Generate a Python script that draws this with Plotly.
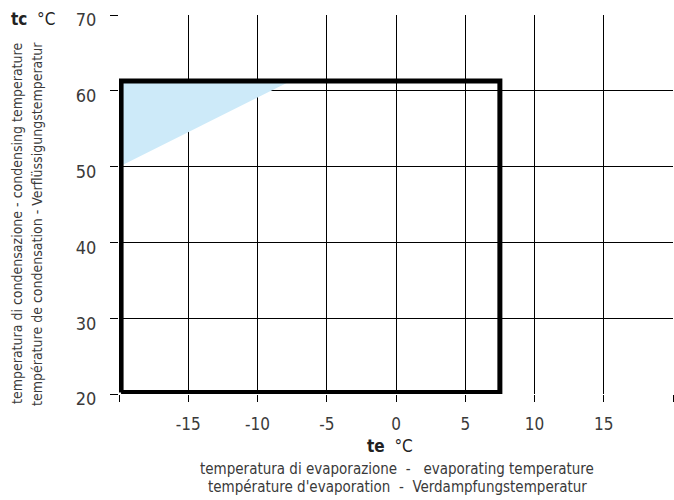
import plotly.graph_objects as go

# data
env_te = [-19.85, 7.5, 7.5, -19.85, -19.85]
env_tc = [20.2, 20.2, 61.3, 61.3, 20.2]
fill_te = [-19.85, -7.6, -19.85, -19.85]
fill_tc = [50.1, 61.3, 61.3, 50.1]
x_ticks = [-20, -15, -10, -5, 0, 5, 10, 15, 20]
x_labels = ["", "-15", "-10", "-5", "0", "5", "10", "15", ""]
y_ticks = [20, 30, 40, 50, 60, 70]
y_labels = ["20", "30", "40", "50", "60", "70"]

FONT = "DejaVu Sans Condensed, Liberation Sans Narrow, sans-serif"
TXT = "#3a3a3a"

fig = go.Figure()
fig.add_trace(go.Scatter(x=fill_te, y=fill_tc, mode="lines", fill="toself",
                         fillcolor="#cdeaf9", line=dict(width=0), hoverinfo="skip"))
fig.add_trace(go.Scatter(x=env_te, y=env_tc, mode="lines",
                         line=dict(color="black", width=5), hoverinfo="skip"))

fig.update_layout(
    width=674, height=500,
    margin=dict(l=119, r=1, t=15, b=106),
    plot_bgcolor="white", paper_bgcolor="white",
    showlegend=False,
    font=dict(family=FONT, color=TXT, size=16),
    xaxis=dict(range=[-20, 20], tickvals=x_ticks, ticktext=x_labels,
               showgrid=True, gridcolor="black", gridwidth=1.4, zeroline=False,
               ticks="outside", ticklen=7, tickcolor="black", tickwidth=1.4,
               ticklabelstandoff=8,
               tickfont=dict(size=17, family=FONT, color=TXT),
               showline=False, fixedrange=True),
    yaxis=dict(range=[20, 70], tickvals=y_ticks, ticktext=y_labels,
               showgrid=True, gridcolor="black", gridwidth=1.4, zeroline=False,
               ticks="outside", ticklen=8, tickcolor="black", tickwidth=1.4,
               ticklabelstandoff=10, ticklabelshift=5,
               tickfont=dict(size=18, family=FONT, color=TXT),
               showline=False, fixedrange=True),
)

ann = [
    dict(x=33, y=19, text="<b>tc</b>  °C", size=17, color="#222", angle=0),
    dict(x=390, y=446, text="<b>te</b>  °C", size=17, color="#222", angle=0),
    dict(x=397, y=469, text="temperatura di evaporazione  -   evaporating temperature", size=15, color=TXT, angle=0),
    dict(x=397, y=487, text="température d'evaporation  -  Verdampfungstemperatur", size=15, color=TXT, angle=0),
    dict(x=17, y=224, text="temperatura di condensazione - condensing temperature", size=14, color=TXT, angle=-90),
    dict(x=37, y=224, text="température de condensation - Verflüssigungstemperatur", size=14, color=TXT, angle=-90),
]
pw, ph = 674 - 119 - 1, 500 - 15 - 106
for a in ann:
    fig.add_annotation(x=(a["x"] - 119) / pw, y=(500 - 106 - a["y"]) / ph, xref="paper", yref="paper",
                       xanchor="center", yanchor="middle", showarrow=False,
                       text=a["text"], font=dict(family=FONT, color=a["color"], size=a["size"]),
                       textangle=a["angle"])

fig.write_html("out.html")
